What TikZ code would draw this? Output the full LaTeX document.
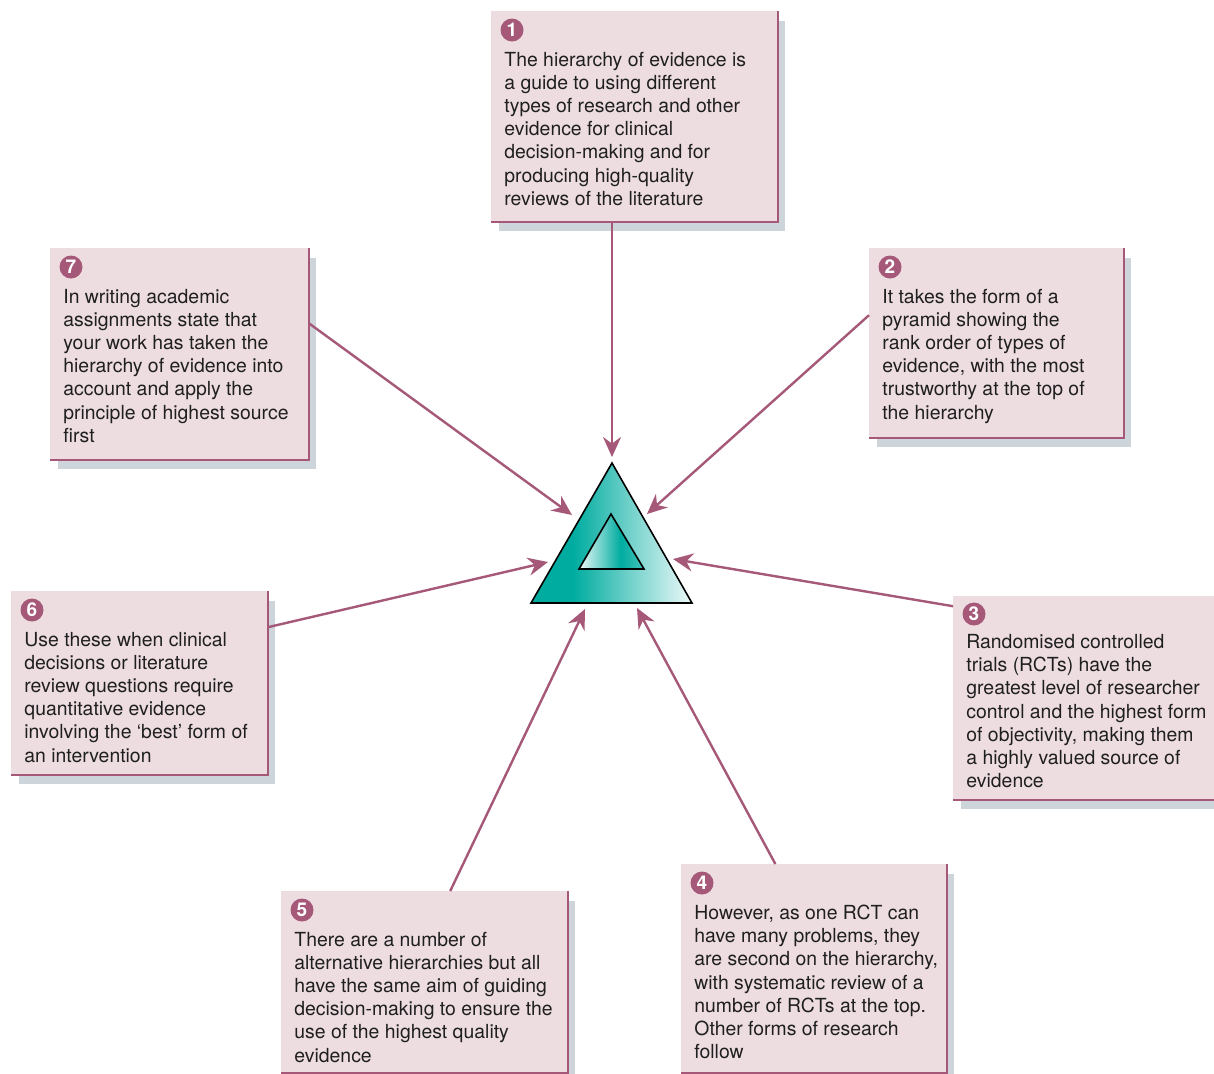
\documentclass[tikz,border=0pt]{standalone}
\usepackage{fontspec}
\setmainfont{TeX Gyre Heros}
\usetikzlibrary{arrows.meta,
                calc,
                positioning,
                shadows}

\definecolor{mauve}{RGB}{165,88,120}
\definecolor{boxpink}{RGB}{237,221,225}
\definecolor{shadowgrey}{RGB}{205,213,219}
\definecolor{tealbase}{RGB}{0,172,160}
\colorlet{tealpale}{tealbase!7}
\colorlet{tealmid}{tealbase!72}
\pgfdeclarehorizontalshading{outershade}{100bp}{color(0bp)=(tealbase); color(38bp)=(tealbase); color(75bp)=(tealpale); color(100bp)=(tealpale)}
\pgfdeclarehorizontalshading{innershade}{100bp}{color(0bp)=(tealpale); color(25bp)=(tealpale); color(57bp)=(tealbase); color(75bp)=(tealmid); color(100bp)=(tealmid)}

\begin{document}
\begin{tikzpicture}[
            x = 0.5pt, y = -0.5pt,
            box/.style 2 args = {fill=boxpink, minimum width=#1, minimum height=#2,
                    anchor=north west, inner sep=0pt,
                    drop shadow={shadow xshift=4pt, shadow yshift=-5pt,
                                 fill=shadowgrey, opacity=1}},
            badge/.style = {circle, fill=mauve, text=white, inner sep=0pt,
                    minimum size=11.5pt, font=\fontsize{9.5}{9.5}\selectfont\bfseries},
            note/.style = {anchor=north west, align=left, inner sep=0pt,
                    text=black!88, font=\fontsize{9.7}{11.6}\selectfont},
            rim/.style = {draw=mauve, line width=1pt},
            link/.style = {draw=mauve, line width=1.2pt,
                    -{Stealth[length=10pt, width=9pt, inset=3.3pt]}}]

        \useasboundingbox (0,0) rectangle (1214,1073);

        % boxes
        \node [box={143pt}{105pt}]    (b1) at (491,11)  {}; % top
        \node [box={127pt}{94.5pt}]   (b2) at (869,248) {}; % upper right
        \node [box={135pt}{101.5pt}]  (b3) at (953,596) {}; % right
        \node [box={132.5pt}{104pt}]  (b4) at (681,864) {}; % lower right
        \node [box={143pt}{90.5pt}]   (b5) at (281,891) {}; % lower left
        \node [box={128pt}{91.5pt}]   (b6) at (11,591)  {}; % left
        \node [box={129pt}{105.5pt}]  (b7) at (50,248)  {}; % upper left

        \foreach \b in {b1,b2,b3,b4,b5,b6,b7}
            \draw [rim] (\b.north east) |- (\b.south west);

        % numbers and texts
        \node [badge] (n1) at ([shift={(10.5pt,-9.5pt)}]b1.north west) {1};
        \node [note]  (x1) at ([shift={(6.5pt,-20.25pt)}]b1.north west)
            {The hierarchy of evidence is\\a guide to using different\\types of research and other\\evidence for clinical\\decision-making and for\\producing high-quality\\reviews of the literature};
        \node [badge] (n2) at ([shift={(10.5pt,-9.5pt)}]b2.north west) {2};
        \node [note]  (x2) at ([shift={(6.5pt,-20.25pt)}]b2.north west)
            {It takes the form of a\\pyramid showing the\\rank order of types of\\evidence, with the most\\trustworthy at the top of\\the hierarchy};
        \node [badge] (n3) at ([shift={(10.5pt,-9pt)}]b3.north west) {3};
        \node [note]  (x3) at ([shift={(6.5pt,-19pt)}]b3.north west)
            {Randomised controlled\\trials (RCTs) have the\\greatest level of researcher\\control and the highest form\\of objectivity, making them\\a highly valued source of\\evidence};
        \node [badge] (n4) at ([shift={(10.5pt,-9.5pt)}]b4.north west) {4};
        \node [note]  (x4) at ([shift={(6.5pt,-20.25pt)}]b4.north west)
            {However, as one RCT can\\have many problems, they\\are second on the hierarchy,\\with systematic review of a\\number of RCTs at the top.\\Other forms of research\\follow};
        \node [badge] (n5) at ([shift={(10.5pt,-9.5pt)}]b5.north west) {5};
        \node [note]  (x5) at ([shift={(6.5pt,-20.25pt)}]b5.north west)
            {There are a number of\\alternative hierarchies but all\\have the same aim of guiding\\decision-making to ensure the\\use of the highest quality\\evidence};
        \node [badge] (n6) at ([shift={(10.5pt,-9.5pt)}]b6.north west) {6};
        \node [note]  (x6) at ([shift={(6.5pt,-20.25pt)}]b6.north west)
            {Use these when clinical\\decisions or literature\\review questions require\\quantitative evidence\\involving the ‘best’ form of\\an intervention};
        \node [badge] (n7) at ([shift={(10.5pt,-9.5pt)}]b7.north west) {7};
        \node [note]  (x7) at ([shift={(6.5pt,-20.25pt)}]b7.north west)
            {In writing academic\\assignments state that\\your work has taken the\\hierarchy of evidence into\\account and apply the\\principle of highest source\\first};

        % pyramid
        \coordinate (apex)  at (612,463);
        \coordinate (lft)   at (531,603);
        \coordinate (rgt)   at (692,603);
        \coordinate (iapex) at (611,514);
        \coordinate (ilft)  at (579,569);
        \coordinate (irgt)  at (644,569);
        \shade [shading=outershade] (apex) -- (lft) -- (rgt) -- cycle;
        \shade [shading=innershade] (iapex) -- (ilft) -- (irgt) -- cycle;
        \draw [line width=0.8pt, line join=miter]
            (apex) -- (lft) -- (rgt) -- cycle
            (iapex) -- (ilft) -- (irgt) -- cycle;

        % arrow ends
        \coordinate (e1) at (612,457);
        \coordinate (e2) at (647,514);
        \coordinate (e3) at (673,559);
        \coordinate (e4) at (637,608);
        \coordinate (e5) at (585,609);
        \coordinate (e6) at (548,562);
        \coordinate (e7) at (572,515);

        %%
        \draw [link] (e1 |- b1.south) -- (e1);
        \draw [link] ($(b2.north west)!0.354!(b2.south west)$) -- (e2);
        \draw [link] ($(b3.north west)!0.05!(b3.south west)$) -- (e3);
        \draw [link] ($(b4.north west)!0.355!(b4.north east)$) -- (e4);
        \draw [link] ($(b5.north west)!0.59!(b5.north east)$) -- (e5);
        \draw [link] ($(b6.north east)!0.197!(b6.south east)$) -- (e6);
        \draw [link] ($(b7.north east)!0.355!(b7.south east)$) -- (e7);
    \end{tikzpicture}
\end{document}
